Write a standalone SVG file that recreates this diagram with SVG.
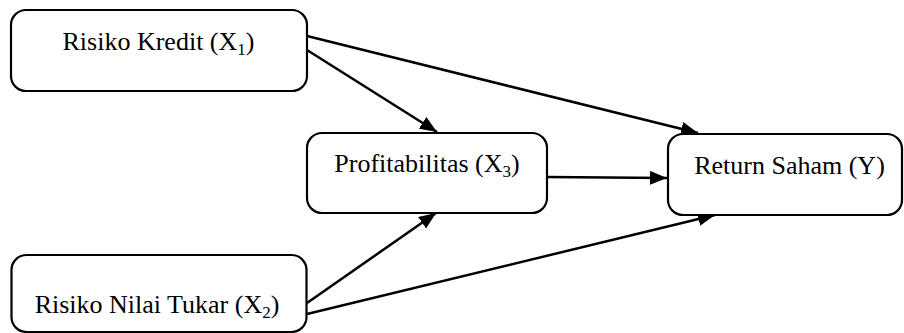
<svg xmlns="http://www.w3.org/2000/svg" width="904" height="333" viewBox="0 0 904 333">
<defs>
<style>
.box{fill:#fff;stroke:#000;stroke-width:2.2}
.lbl{font-family:"Liberation Serif","Times New Roman",serif;font-size:26px;fill:#000;text-anchor:middle}
.sub{font-size:17px}
.con{stroke:#000;stroke-width:2.5;fill:none;marker-end:url(#ah)}
</style>
<marker id="ah" markerUnits="userSpaceOnUse" markerWidth="18" markerHeight="16" refX="17" refY="7" orient="auto">
<path d="M0,0 L17,7 L0,14 z" fill="#000"/>
</marker>
</defs>
<rect width="904" height="333" fill="#fff"/>
<g id="connectors">
<line class="con" x1="307" y1="36" x2="698" y2="133"/>
<line class="con" x1="307" y1="50" x2="437" y2="132"/>
<line class="con" x1="547" y1="177" x2="667" y2="178"/>
<line class="con" x1="307" y1="303" x2="436" y2="213"/>
<line class="con" x1="307" y1="314" x2="715" y2="215"/>
</g>
<g id="x1">
<rect class="box" x="11" y="10" width="296" height="81" rx="15"/>
<text class="lbl" x="158.5" y="50">Risiko Kredit (X<tspan class="sub" dy="5">1</tspan><tspan dy="-5">)</tspan></text>
</g>
<g id="x3">
<rect class="box" x="307" y="133" width="240" height="80" rx="15"/>
<text class="lbl" x="427" y="172">Profitabilitas (X<tspan class="sub" dy="5">3</tspan><tspan dy="-5">)</tspan></text>
</g>
<g id="y">
<rect class="box" x="668" y="134" width="234" height="81" rx="15"/>
<text class="lbl" x="789.5" y="174">Return Saham (Y)</text>
</g>
<g id="x2">
<rect class="box" x="11.5" y="255" width="295" height="77" rx="15"/>
<text class="lbl" x="157" y="313">Risiko Nilai Tukar (X<tspan class="sub" dy="5">2</tspan><tspan dy="-5">)</tspan></text>
</g>
</svg>
